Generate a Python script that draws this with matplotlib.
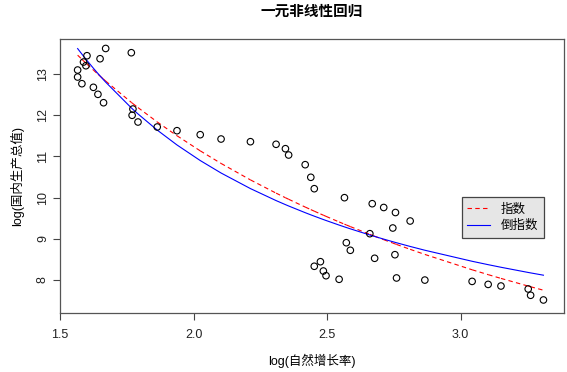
import numpy as np
import matplotlib
matplotlib.use("Agg")
import matplotlib.pyplot as plt
from matplotlib.collections import LineCollection
from matplotlib.lines import Line2D

plt.rcParams['font.family'] = ['Liberation Sans', 'Noto Sans CJK SC', 'DejaVu Sans']

# log(自然增长率)
log_rate = [1.671, 1.767, 1.601, 1.650, 1.588, 1.597, 1.566, 1.566, 1.582, 1.625,
            1.642, 1.663, 1.773, 1.770, 1.792, 1.864, 1.938, 2.025, 2.103, 2.213,
            2.309, 2.344, 2.356, 2.418, 2.439, 2.452, 2.565, 2.669, 2.712, 2.756,
            2.811, 2.746, 2.660, 2.572, 2.587, 2.678, 2.754, 2.475, 2.452, 2.486,
            2.496, 2.545, 2.760, 2.866, 3.043, 3.103, 3.151, 3.253, 3.262, 3.310]
# log(国内生产总值)
log_gdp = [13.62, 13.517, 13.444, 13.371, 13.291, 13.201, 13.097, 12.927, 12.765, 12.677,
           12.507, 12.303, 12.150, 11.998, 11.835, 11.714, 11.624, 11.527, 11.422, 11.357,
           11.294, 11.187, 11.034, 10.799, 10.493, 10.216, 9.998, 9.852, 9.760, 9.638,
           9.432, 9.262, 9.124, 8.905, 8.721, 8.527, 8.614, 8.444, 8.333, 8.218,
           8.104, 8.017, 8.049, 7.998, 7.966, 7.893, 7.854, 7.782, 7.629, 7.515]

# fitted coefficients
# 指数: y = a * x^b
exp_a, exp_b = 18.73, -0.737
# 倒指数: y = a * exp(b / x)
inv_a, inv_b = 5.10, 1.538

x = np.array(log_rate)
y = np.array(log_gdp)

xs = np.sort(x)
y_exp = exp_a * xs ** exp_b
y_inv = inv_a * np.exp(inv_b / xs)

fig = plt.figure(figsize=(5.67, 3.72), dpi=100)
ax = fig.add_axes([60 / 567, 1 - 312.7 / 372, 504 / 567, (312.7 - 39) / 372])

ax.scatter(x, y, s=22, facecolors='none', edgecolors='black', linewidths=0.8, zorder=3)

# dashes restart on every segment, as in the original device
segs = [[(xs[i], y_exp[i]), (xs[i + 1], y_exp[i + 1])] for i in range(len(xs) - 1)]
ax.add_collection(LineCollection(segs, colors='red', linewidths=0.8,
                                 linestyles=[(0, (4, 3))]))
ax.plot(xs, y_inv, color='blue', lw=0.8)

ax.set_xlim(1.5, 3.387)
ax.set_ylim(7.206, 13.85)
ax.set_xticks([1.5, 2.0, 2.5, 3.0])
ax.set_yticks([8, 9, 10, 11, 12, 13])
ax.set_xticklabels(['1.5', '2.0', '2.5', '3.0'])
ax.set_yticklabels(['8', '9', '10', '11', '12', '13'], rotation=90, va='center')
ax.tick_params(length=5, width=0.8, color='#444444', labelsize=9, labelcolor='#222222')
ax.tick_params(axis='x', pad=7)
ax.tick_params(axis='y', pad=3)
for sp in ax.spines.values():
    sp.set_color('#555555')
    sp.set_linewidth(0.9)

ax.set_xlabel('log(自然增长率)', fontsize=9, labelpad=9)
ax.set_ylabel('log(国内生产总值)', fontsize=9, labelpad=9)
ax.set_title('一元非线性回归', fontsize=10.5, fontweight='bold',
             family=['Noto Sans CJK SC'], pad=17)

handles = [Line2D([], [], color='red', lw=0.8, ls=(0, (4, 3))),
           Line2D([], [], color='blue', lw=0.8)]
leg = ax.legend(handles, ['指数', '倒指数'], loc='upper left',
                bbox_to_anchor=((461.5 - 60) / 504, 1 - (197 - 39) / 273.7),
                borderaxespad=0, fancybox=False, framealpha=1, borderpad=0.45,
                handlelength=1.8, handletextpad=0.9, labelspacing=0.3,
                prop={'family': ['Noto Sans CJK SC'], 'size': 9})
leg.get_frame().set_facecolor('#e6e6e6')
leg.get_frame().set_edgecolor('#444444')
leg.get_frame().set_linewidth(0.9)

fig.savefig('out.png', dpi=100)
